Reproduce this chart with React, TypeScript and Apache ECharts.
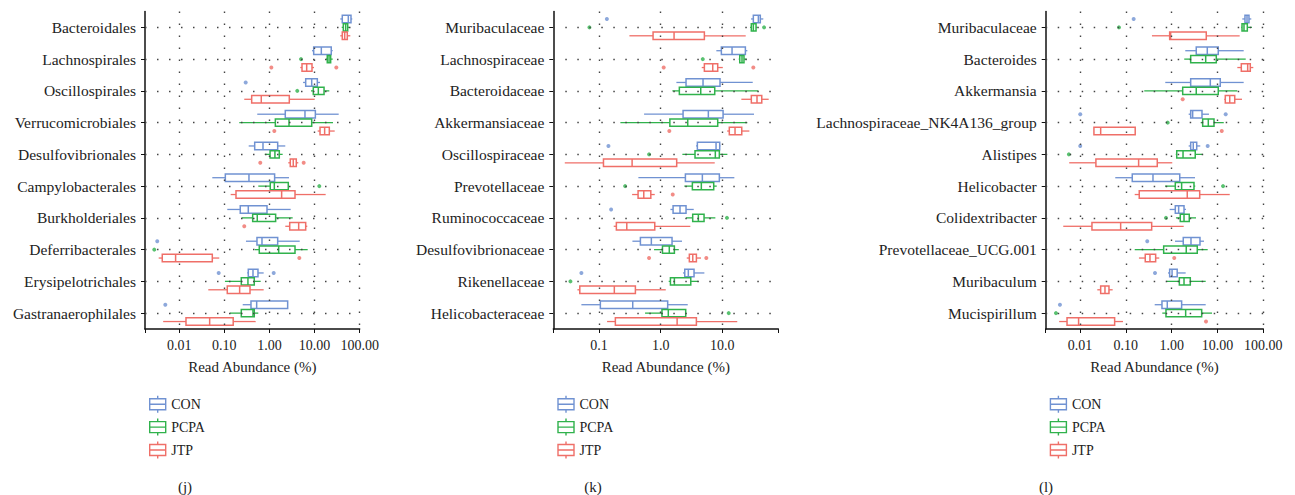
import React, { useEffect, useRef } from 'react';
import * as echarts from 'echarts';

// ---------- DATA ----------
const groups = ['CON', 'PCPA', 'JTP'];

const jCats = ['Bacteroidales', 'Lachnospirales', 'Oscillospirales', 'Verrucomicrobiales', 'Desulfovibrionales', 'Campylobacterales', 'Burkholderiales', 'Deferribacterales', 'Erysipelotrichales', 'Gastranaerophilales'];
const kCats = ['Muribaculaceae', 'Lachnospiraceae', 'Bacteroidaceae', 'Akkermansiaceae', 'Oscillospiraceae', 'Prevotellaceae', 'Ruminococcaceae', 'Desulfovibrionaceae', 'Rikenellaceae', 'Helicobacteraceae'];
const lCats = ['Muribaculaceae', 'Bacteroides', 'Akkermansia', 'Lachnospiraceae_NK4A136_group', 'Alistipes', 'Helicobacter', 'Colidextribacter', 'Prevotellaceae_UCG.001', 'Muribaculum', 'Mucispirillum'];

// [lower whisker, Q1, median, Q3, upper whisker] per category
const jCON = [[37.1, 41.1, 55.9, 64.1, 68.5], [8.76, 9.55, 14.1, 23.4, 25.2], [5.56, 6.35, 8.63, 11.5, 13.2], [0.536, 2.24, 6.12, 10.4, 34.2], [0.346, 0.47, 0.718, 1.52, 2.24], [0.054, 0.105, 0.351, 1.3, 2.71], [0.116, 0.225, 0.339, 0.881, 2.95], [0.301, 0.528, 0.682, 1.52, 4.68], [0.322, 0.339, 0.431, 0.556, 0.743], [0.255, 0.389, 0.52, 2.53, 2.57]];
const jPCPA = [[39.9, 43.3, 48.9, 54.2, 58.8], [17.9, 19.1, 20.9, 22.7, 25.2], [8.32, 9.36, 12.1, 16.2, 21.2], [0.214, 1.35, 2.71, 8.63, 25.6], [0.783, 1.03, 1.32, 1.65, 1.96], [0.565, 1.04, 1.28, 2.61, 2.7], [0.242, 0.424, 0.536, 1.37, 3.27], [0.477, 0.594, 1.6, 3.68, 7.03], [0.103, 0.237, 0.333, 0.46, 0.638], [0.133, 0.237, 0.431, 0.46, 0.565]];
const jJTP = [[37.1, 41.1, 46.5, 53.1, 61.9], [4.82, 5.26, 6.68, 8.76, 9.7], [0.276, 0.403, 0.658, 2.75, 10.05], [11.7, 13.2, 16.7, 21.2, 27.9], [2.61, 2.89, 3.37, 3.93, 4.35], [0.138, 0.181, 1.86, 3.68, 17.6], [2.24, 2.81, 4.44, 6.35, 6.89], [0.0035, 0.0042, 0.0083, 0.054, 0.077], [0.044, 0.116, 0.218, 0.37, 0.743], [0.0044, 0.0141, 0.0472, 0.157, 0.494]];
// outliers: [category index, value]
const jCONOut = [[2, 0.297], [7, 0.00325], [8, 0.0748], [8, 1.24], [9, 0.0049]];
const jPCPAOut = [[1, 5.0], [2, 4.13], [5, 12.7], [7, 0.00279]];
const jJTPOut = [[1, 1.1], [1, 30.3], [3, 1.28], [4, 0.625], [4, 5.73], [6, 0.276], [7, 4.58]];

const kCON = [[29.3, 31.9, 38.5, 41.4, 46.3], [8.01, 9.66, 14.4, 23.7, 25.5], [1.8, 2.58, 4.87, 9.19, 31.2], [0.538, 2.31, 5.94, 10.3, 32.7], [3.75, 3.94, 7.92, 9.08, 9.31], [0.435, 2.52, 4.75, 8.96, 15.7], [1.44, 1.59, 2.06, 2.58, 3.44], [0.348, 0.469, 0.706, 1.53, 2.22], [2.3, 2.46, 2.81, 3.48, 5.12], [0.0517, 0.105, 0.352, 1.3, 2.75]];
const kPCPA = [[28.2, 29.6, 31.9, 35.3, 37.0], [18.5, 19.2, 20.9, 22.5, 24.9], [1.55, 2.01, 4.47, 7.54, 38.4], [0.222, 1.41, 2.75, 8.43, 25.5], [2.25, 3.61, 7.71, 8.96, 12.1], [2.42, 3.27, 4.57, 7.26, 8.13], [2.58, 3.31, 4.09, 5.06, 7.72], [0.781, 1.07, 1.38, 1.67, 1.97], [1.35, 1.44, 1.67, 3.08, 4.09], [0.558, 1.05, 1.33, 2.55, 2.57]];
const kJTP = [[0.311, 0.753, 1.65, 5.12, 24.0], [4.64, 5.12, 7.0, 8.43, 10.2], [20.4, 29.6, 36.6, 43.7, 56.6], [12.0, 13.0, 16.1, 20.7, 27.5], [0.0278, 0.118, 0.344, 1.82, 7.54], [0.344, 0.43, 0.532, 0.692, 0.802], [0.173, 0.191, 0.282, 0.802, 3.03], [2.65, 2.92, 3.32, 3.8, 4.52], [0.0446, 0.0487, 0.177, 0.389, 1.21], [0.135, 0.184, 1.85, 3.8, 17.5]];
const kCONOut = [[0, 0.134], [4, 0.142], [6, 0.157], [8, 0.0517]];
const kPCPAOut = [[0, 0.0697], [0, 47.6], [1, 4.82], [4, 0.648], [5, 0.265], [6, 11.9], [8, 0.0343], [9, 12.7]];
const kJTPOut = [[1, 1.12], [1, 31.9], [3, 1.38], [5, 1.57], [7, 0.648], [7, 5.51]];

const lCON = [[34.8, 39.8, 44.1, 48.7, 54.7], [1.98, 3.44, 5.99, 10.4, 37.3], [0.725, 2.6, 6.97, 11.5, 37.3], [2.35, 2.6, 2.87, 4.59, 6.52], [2.35, 2.6, 2.96, 3.52, 4.21], [0.0587, 0.138, 0.391, 1.5, 3.23], [0.904, 1.2, 1.42, 1.86, 2.05], [1.18, 1.79, 2.64, 4.15, 5.07], [0.83, 0.904, 1.02, 1.32, 2.02], [0.426, 0.614, 0.802, 1.65, 5.53]];
const lPCPA = [[33.1, 34.3, 37.9, 44.8, 56.6], [1.88, 2.6, 5.53, 9.42, 41.3], [0.252, 1.74, 3.44, 10.4, 27.1], [4.3, 4.75, 6.3, 8.39, 13.7], [1.23, 1.29, 1.77, 3.27, 4.75], [0.714, 1.2, 1.65, 3.07, 3.27], [1.24, 1.54, 1.86, 2.42, 3.4], [0.156, 0.669, 2.08, 3.62, 6.11], [0.762, 1.47, 1.86, 2.55, 5.53], [0.624, 0.751, 2.02, 4.52, 7.59]];
const lJTP = [[0.371, 0.904, 0.95, 5.69, 30.5], [27.1, 33.1, 45.6, 52.0, 60.5], [14.1, 14.8, 18.5, 23.8, 34.3], [0.0201, 0.0201, 0.0282, 0.16, 0.16], [0.0058, 0.0222, 0.19, 0.485, 1.03], [0.156, 0.196, 2.19, 4.09, 18.5], [0.0043, 0.0182, 0.077, 0.366, 1.83], [0.193, 0.265, 0.336, 0.447, 0.536], [0.0238, 0.0282, 0.035, 0.0428, 0.0515], [0.0035, 0.0052, 0.0093, 0.0569, 0.0865]];
const lCONOut = [[0, 0.148], [3, 0.0101], [3, 15.1], [4, 0.0101], [4, 6.11], [7, 0.293], [8, 0.432], [9, 0.00364]];
const lPCPAOut = [[0, 0.0707], [3, 0.818], [4, 0.0057], [5, 13.2], [6, 0.751], [9, 0.00298]];
const lJTPOut = [[2, 1.74], [3, 12.4], [7, 1.14], [9, 5.61]];

const xTicks = [0.01, 0.1, 1, 10, 100];
const axisTitle = 'Read Abundance (%)';
const panelTags = ['(j)', '(k)', '(l)'];

// ---------- STYLE / LAYOUT ----------
const FONT = 'Liberation Serif';
const COLORS = ['#7092d2', '#30b24c', '#ef6f68'];
const OFFSETS = [-0.265, 0, 0.265];
const TEXT = '#222';

const panels = [
  { cats: jCats, stats: [jCON, jPCPA, jJTP], outs: [jCONOut, jPCPAOut, jJTPOut], left: 145, width: 214.7, min: 0.00174, max: 100, dec: 2, tagX: 185 },
  { cats: kCats, stats: [kCON, kPCPA, kJTP], outs: [kCONOut, kPCPAOut, kJTPOut], left: 553.3, width: 225, min: 0.0181, max: 81.1, dec: 1, tagX: 593 },
  { cats: lCats, stats: [lCON, lPCPA, lJTP], outs: [lCONOut, lPCPAOut, lJTPOut], left: 1045.7, width: 217.6, min: 0.00178, max: 100, dec: 2, tagX: 1046 },
];
const GRID_TOP = 11.5;
const GRID_H = 317.5;

const LEGEND_ICON = 'path://M8,0L8,3M0,3L16,3L16,14L0,14ZM0,8.5L16,8.5M8,14L8,17';

function makeRender(color: string, frac: number) {
  return (params: any, api: any) => {
    const c = api.value(0);
    const band = api.size([0, 1], [1, c])[1];
    const y = api.coord([1, c])[1] + band * frac;
    const h = band * 0.235;
    const xs = [1, 2, 3, 4, 5].map((d) => api.coord([api.value(d), c])[0]);
    const ls = { stroke: color, lineWidth: 1.3, fill: null };
    return {
      type: 'group',
      children: [
        { type: 'line', shape: { x1: xs[0], y1: y, x2: xs[1], y2: y }, style: ls },
        { type: 'line', shape: { x1: xs[3], y1: y, x2: xs[4], y2: y }, style: ls },
        { type: 'rect', shape: { x: xs[1], y: y - h / 2, width: Math.max(xs[3] - xs[1], 0.5), height: h }, style: { fill: '#fff', stroke: color, lineWidth: 1.5 } },
        { type: 'line', shape: { x1: xs[2], y1: y - h / 2, x2: xs[2], y2: y + h / 2 }, style: { stroke: color, lineWidth: 1.5 } },
      ],
    };
  };
}

function buildOption() {
  const grid: any[] = [];
  const xAxis: any[] = [];
  const yAxis: any[] = [];
  const series: any[] = [];
  const legend: any[] = [];
  const graphic: any[] = [];
  const dotted = { type: [1.5, 10.5], width: 1.4, color: '#444' };

  panels.forEach((p, pi) => {
    grid.push({ left: p.left, top: GRID_TOP, width: p.width, height: GRID_H, containLabel: false });
    xAxis.push({
      type: 'log', logBase: 10, gridIndex: pi, min: p.min, max: p.max,
      name: axisTitle, nameLocation: 'middle', nameGap: 30,
      nameTextStyle: { fontFamily: FONT, fontSize: 15, color: TEXT },
      axisLine: { show: true, lineStyle: { color: '#111', width: 1.5 } },
      axisTick: { show: true, length: 4, lineStyle: { color: '#111', width: 1 } },
      splitLine: { show: false },
      axisLabel: {
        fontFamily: FONT, fontSize: 14, color: TEXT, margin: 9,
        formatter: (v: number) => {
          const l = Math.log10(v);
          if (Math.abs(l - Math.round(l)) > 1e-6) return '';
          return Math.pow(10, Math.round(l)).toFixed(p.dec);
        },
      },
    });
    yAxis.push({
      type: 'category', gridIndex: pi, data: p.cats, inverse: true,
      axisLine: { show: true, lineStyle: { color: '#111', width: 1.5 } },
      axisTick: { show: true, alignWithLabel: true, length: 4, lineStyle: { color: '#111', width: 1 } },
      axisLabel: { fontFamily: FONT, fontSize: 15.5, color: TEXT, margin: 9 },
      splitLine: { show: false },
    });
    // dotted reference lines
    series.push({
      type: 'scatter', xAxisIndex: pi, yAxisIndex: pi, data: [], silent: true, z: 1,
      markLine: {
        silent: true, symbol: 'none', label: { show: false }, animation: false,
        lineStyle: dotted,
        data: [
          ...p.cats.map((_, i) => ({ yAxis: i })),
          ...xTicks.filter((t) => t >= p.min && t <= p.max).map((t) => ({ xAxis: t })),
        ],
      },
    });
    groups.forEach((g, gi) => {
      series.push({
        type: 'custom', name: g, xAxisIndex: pi, yAxisIndex: pi, z: 3,
        itemStyle: { color: COLORS[gi] },
        renderItem: makeRender(COLORS[gi], OFFSETS[gi]),
        encode: { x: [1, 2, 3, 4, 5], y: 0 },
        data: p.stats[gi].map((s, ci) => [ci, ...s]),
      });
      series.push({
        type: 'scatter', name: g, xAxisIndex: pi, yAxisIndex: pi, z: 4,
        symbolSize: 4, symbolOffset: [0, OFFSETS[gi] * (GRID_H / 10)],
        itemStyle: { color: COLORS[gi] },
        data: p.outs[gi].map(([ci, v]) => [v, ci]),
      });
    });
    legend.push({
      orient: 'vertical', left: p.left - 1, top: 390, itemWidth: 17, itemHeight: 17, itemGap: 4.5,
      icon: LEGEND_ICON,
      textStyle: { fontFamily: FONT, fontSize: 14, color: TEXT },
      data: groups.map((g, gi) => ({ name: g, icon: LEGEND_ICON, itemStyle: { color: '#fff', borderColor: COLORS[gi], borderWidth: 1.4 } })),
      selectedMode: false,
    });
    graphic.push({
      type: 'text', x: p.tagX, y: 487,
      style: { text: panelTags[pi], font: `15px ${FONT}`, fill: TEXT, textAlign: 'center', textVerticalAlign: 'middle' },
    });
  });

  return { animation: false, backgroundColor: '#fff', grid, xAxis, yAxis, series, legend, graphic };
}

export default function App() {
  const ref = useRef<HTMLDivElement>(null);
  useEffect(() => {
    if (!ref.current) return;
    const chart = echarts.init(ref.current, undefined, { renderer: 'svg' });
    chart.setOption(buildOption() as any);
    return () => chart.dispose();
  }, []);
  return <div ref={ref} style={{ position: 'absolute', left: 0, top: 0, width: 1295, height: 495 }} />;
}
